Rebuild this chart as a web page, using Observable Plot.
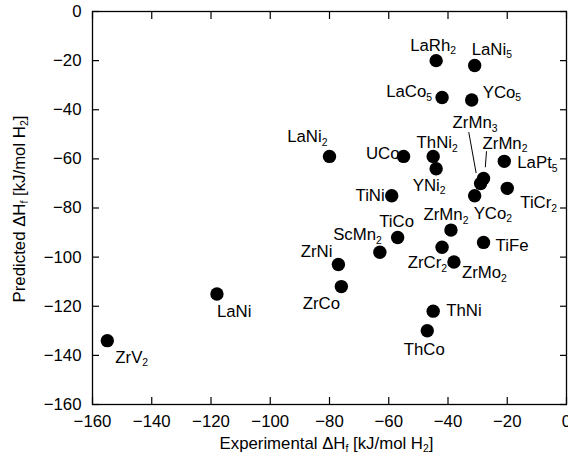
<!DOCTYPE html>
<html><head><meta charset="utf-8">
<script src="https://cdn.jsdelivr.net/npm/d3@7"></script>
<script src="https://cdn.jsdelivr.net/npm/@observablehq/plot@0.6"></script>
<style>
html,body{margin:0;padding:0;background:#fff;}
#chart svg{display:block;}
</style></head>
<body><div id="chart"></div>
<script>
// ---- data ----
const compounds = ["LaRh_2","LaNi_5","LaCo_5","YCo_5","LaNi_2","UCo","ThNi_2","YNi_2","LaPt_5","ZrMn_3","ZrMn_2","TiNi","YCo_2","TiCr_2","ZrMn_2","TiCo","ScMn_2","ZrNi","ZrCo","ZrCr_2","ZrMo_2","TiFe","ThNi","ThCo","LaNi","ZrV_2"];
const experimental = [-44,-31,-42,-32,-80,-55,-45,-44,-21,-29,-28,-59,-31,-20,-39,-57,-63,-77,-76,-42,-38,-28,-45,-47,-118,-155];
const predicted = [-20,-22,-35,-36,-59,-59,-59,-64,-61,-70,-68,-75,-75,-72,-89,-92,-98,-103,-112,-96,-102,-94,-122,-130,-115,-134];
const xTicks = [-160,-140,-120,-100,-80,-60,-40,-20,0];
const yTicks = [-160,-140,-120,-100,-80,-60,-40,-20,0];
const xTitle = "Experimental ΔH_f [kJ/mol H_2]";
const yTitle = "Predicted ΔH_f [kJ/mol H_2]";

// ---- label placement (style: text anchor, pixel offset of baseline) ----
const labelPlacement = [
  ["middle",-3,-10],["start",-3,-11],["end",-10,0],["start",11,-2],["end",-2,-14],
  ["end",-4,3],["middle",4,-8],["middle",-7,22],["start",13,7],["start",-28,-55],
  ["start",-1,-30],["end",-7,5],["start",-1,23],["start",13,20],["middle",-5,-10],
  ["middle",-1,-10],["end",2,-12],["end",-6,-7],["middle",-20,22],["end",5,21],
  ["start",8,16],["start",12,9],["start",13,5],["middle",-3,24],["start",0,23],["start",8,22]
];
// leader lines: point index, start offset and end offset (data units)
const leaders = [
  {i:9, a:[-1.5,4.2], b:[-4,20.9]},
  {i:10, a:[0.6,4.6], b:[1,11.1]}
];

const rows = compounds.map((name,i)=>({name, x:experimental[i], y:predicted[i]}));

const labelMarks = rows.map((r,i)=>Plot.text([r], {
  x:"x", y:"y", text:"name",
  textAnchor: labelPlacement[i][0], dx: labelPlacement[i][1], dy: labelPlacement[i][2],
  lineAnchor:"bottom", fill:"#000", className:"sublabel"
}));

const plot = Plot.plot({
  width:568, height:457,
  marginLeft:92, marginRight:2, marginTop:11, marginBottom:53,
  style:{fontFamily:"'Liberation Sans', Arial, Helvetica, sans-serif", fontSize:"16.8px", background:"#fff", color:"#000", overflow:"visible"},
  x:{domain:[-160,0], label:null},
  y:{domain:[-160,0], label:null},
  marks:[
    Plot.axisX(xTicks, {anchor:"bottom", tickSize:-7, tickPadding:17.5, label:null, strokeWidth:1.2}),
    Plot.axisX(xTicks, {anchor:"top", tickSize:-7, tickFormat:()=>"", label:null, strokeWidth:1.2}),
    Plot.axisY(yTicks, {anchor:"left", tickSize:-7, tickPadding:18, label:null, strokeWidth:1.2}),
    Plot.axisY(yTicks, {anchor:"right", tickSize:-7, tickFormat:()=>"", label:null, strokeWidth:1.2}),
    Plot.frame({stroke:"#000", strokeWidth:1.3}),
    Plot.link(leaders, {
      x1:d=>experimental[d.i]+d.a[0], y1:d=>predicted[d.i]+d.a[1],
      x2:d=>experimental[d.i]+d.b[0], y2:d=>predicted[d.i]+d.b[1],
      stroke:"#000", strokeWidth:1
    }),
    Plot.dot(rows, {x:"x", y:"y", r:6.7, fill:"#000", stroke:null}),
    ...labelMarks,
    Plot.text([xTitle], {frameAnchor:"bottom", text:d=>d, textAnchor:"middle", lineAnchor:"bottom", dy:44, dx:-3, fill:"#000", className:"sublabel"}),
    Plot.text([yTitle], {frameAnchor:"left", text:d=>d, textAnchor:"middle", lineAnchor:"bottom", rotate:-90, dx:-68, dy:1, fill:"#000", className:"sublabel"})
  ]
});

document.getElementById("chart").appendChild(plot);

// turn "_x" markers into real subscripts
const NS = "http://www.w3.org/2000/svg";
plot.querySelectorAll("g.sublabel text").forEach(el=>{
  const s = el.textContent;
  const parts = s.split(/_(.)/);
  el.textContent = "";
  let shifted = false;
  parts.forEach((p,k)=>{
    if (!p) return;
    const t = document.createElementNS(NS,"tspan");
    t.textContent = p;
    if (k % 2 === 1) { t.setAttribute("font-size","62%"); t.setAttribute("dy","3.5"); shifted = true; }
    else if (shifted) { t.setAttribute("dy","-3.5"); shifted = false; }
    el.appendChild(t);
  });
});
</script>
</body></html>
